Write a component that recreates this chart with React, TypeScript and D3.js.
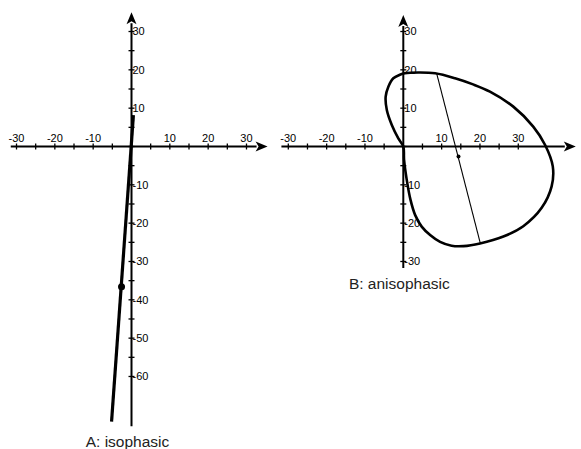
import React from 'react';
import * as d3 from 'd3';

const W = 581;
const H = 449;

// tick values (every 5 units, labelled every 10)
const xTicks = d3.range(-30, 31, 5);
const yTicksA = d3.range(-60, 31, 5);
const yTicksB = d3.range(-30, 31, 5);
const xLabels = [-30, -20, -10, 10, 20, 30];
const yLabelsA = [30, 20, 10, -10, -20, -30, -40, -50, -60];
const yLabelsB = [30, 20, 10, -10, -20, -30];

// A: isophasic – axis of the loop (a straight line) and its midpoint
const isoLine: [number, number][] = [[0.5, 8.2], [-5.2, -71.8]];
const isoDot: [number, number] = [-2.6, -36.6];

// B: anisophasic – loop traced from origin, plus its long axis and midpoint
const anisoLoop: [number, number][] = [
  [0, 0], [-1.3, 2.1], [-3.0, 5.6], [-4.3, 9.5], [-4.6, 13.0], [-3.9, 15.6],
  [-2.6, 17.8], [-0.9, 18.7], [0.4, 19.1], [3.9, 19.3], [8.3, 19.1],
  [13.5, 17.8], [18.2, 16.2], [22.6, 14.3], [28.7, 10.4], [33.9, 5.2],
  [37.0, 0.4], [39.0, -5.2], [38.7, -10.4], [36.1, -16.0], [31.3, -20.8],
  [26.1, -23.5], [20.0, -25.3], [15.7, -26.0], [12.6, -25.9], [9.6, -24.9],
  [7.0, -23.1], [4.8, -20.9], [3.1, -17.9], [1.9, -14.0], [0.9, -8.7], [0.2, -3.5],
];
const anisoAxis: [number, number][] = [[8.7, 19.1], [20.1, -25.3]];
const anisoDot: [number, number] = [14.4, -2.6];

const FONT = '"Liberation Sans", Arial, sans-serif';

type PanelProps = {
  ox: number;
  oy: number;
  xMin: number;
  xMax: number;
  yMin: number;
  yMax: number;
  yTicks: number[];
  yLabels: number[];
  title: string;
  titleY: number;
  children: (x: d3.ScaleLinear<number, number>, y: d3.ScaleLinear<number, number>) => React.ReactNode;
};

const UNIT = 3.833;

const Panel = ({ ox, oy, xMin, xMax, yMin, yMax, yTicks, yLabels, title, titleY, children }: PanelProps) => {
  const x = d3.scaleLinear().domain([0, 10]).range([ox, ox + 10 * UNIT]);
  const y = d3.scaleLinear().domain([0, 10]).range([oy, oy - 10 * UNIT]);
  const ah = 12; // arrow head length
  const aw = 5;
  return (
    <g>
      {/* x axis */}
      <line x1={x(xMin)} x2={x(xMax) - ah + 1} y1={y(0)} y2={y(0)} stroke="#000" strokeWidth={2} />
      <path
        d={`M${x(xMax)},${y(0)} L${x(xMax) - ah},${y(0) - aw} L${x(xMax) - ah + 3},${y(0)} L${x(xMax) - ah},${y(0) + aw} Z`}
        fill="#000"
      />
      {/* y axis */}
      <line x1={x(0)} x2={x(0)} y1={y(yMin)} y2={y(yMax) + ah - 1} stroke="#000" strokeWidth={2} />
      <path
        d={`M${x(0)},${y(yMax)} L${x(0) - aw},${y(yMax) + ah} L${x(0)},${y(yMax) + ah - 3} L${x(0) + aw},${y(yMax) + ah} Z`}
        fill="#000"
      />
      {xTicks.map(t => (
        <line key={'xt' + t} x1={x(t)} x2={x(t)} y1={y(0) - 3} y2={y(0) + 3} stroke="#000" strokeWidth={1.3} />
      ))}
      {yTicks.map(t => (
        <line key={'yt' + t} x1={x(0) - 3} x2={x(0) + 3} y1={y(t)} y2={y(t)} stroke="#000" strokeWidth={1.3} />
      ))}
      {xLabels.map(t => (
        <text key={'xl' + t} x={x(t)} y={y(0) - 5} textAnchor="middle" fontSize={11} fontFamily={FONT} fill="#000">
          {t}
        </text>
      ))}
      {yLabels.map(t => (
        <text key={'yl' + t} x={x(0) + 1} y={y(t)} dy="0.35em" fontSize={11} fontFamily={FONT} fill="#000">
          {t}
        </text>
      ))}
      {children(x, y)}
      <text x={x(0) - 4} y={titleY} textAnchor="middle" fontSize={15.5} fontFamily={FONT} fill="#222">
        {title}
      </text>
    </g>
  );
};

const App = () => {
  return (
    <svg width={W} height={H} style={{ position: 'absolute', left: 0, top: 0, background: '#fff' }}>
      <Panel
        ox={131.5} oy={146.5} xMin={-31.5} xMax={35.5} yMin={-73} yMax={35}
        yTicks={yTicksA} yLabels={yLabelsA} title="A: isophasic" titleY={447}
      >
        {(x, y) => {
          const line = d3.line<[number, number]>().x(d => x(d[0])).y(d => y(d[1]));
          return (
            <g>
              <path d={line(isoLine) ?? ''} stroke="#000" strokeWidth={3.2} fill="none" />
              <circle cx={x(isoDot[0])} cy={y(isoDot[1])} r={3.5} fill="#000" />
            </g>
          );
        }}
      </Panel>
      <Panel
        ox={403.3} oy={146.5} xMin={-31.8} xMax={45} yMin={-31.7} yMax={34.3}
        yTicks={yTicksB} yLabels={yLabelsB} title="B: anisophasic" titleY={289}
      >
        {(x, y) => {
          const loop = d3.line<[number, number]>().x(d => x(d[0])).y(d => y(d[1])).curve(d3.curveCatmullRomClosed);
          const line = d3.line<[number, number]>().x(d => x(d[0])).y(d => y(d[1]));
          return (
            <g>
              <path d={loop(anisoLoop) ?? ''} stroke="#000" strokeWidth={2.6} fill="none" />
              <path d={line(anisoAxis) ?? ''} stroke="#000" strokeWidth={1.1} fill="none" />
              <circle cx={x(anisoDot[0])} cy={y(anisoDot[1])} r={2} fill="#000" />
            </g>
          );
        }}
      </Panel>
    </svg>
  );
};

export default App;
